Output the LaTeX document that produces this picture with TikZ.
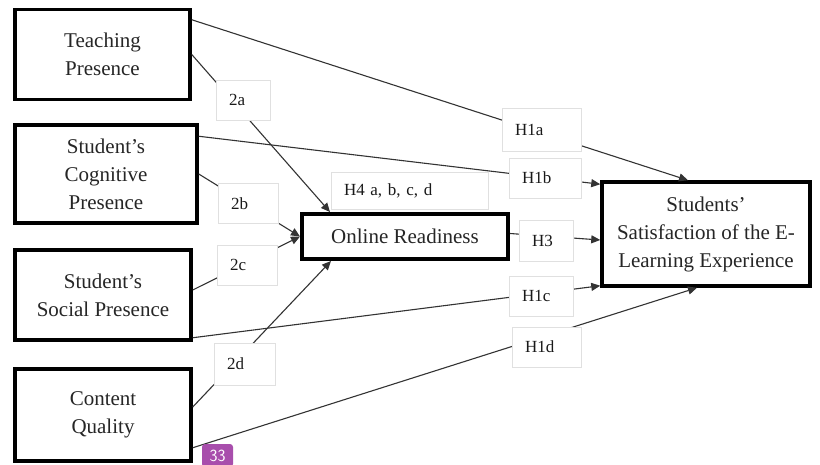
\documentclass[tikz,border=0pt]{standalone}
\usepackage{fontspec}
\setmainfont{Liberation Serif}
\usetikzlibrary{arrows.meta}
\definecolor{badgepurple}{RGB}{168,78,172}

\begin{document}
\begin{tikzpicture}[x=1pt,y=-1pt,
	construct/.style={draw=black, line width=3.5pt, fill=white, align=center, inner sep=0pt, text=black!85, font=\fontsize{21pt}{28pt}\selectfont},
	hyp/.style={draw=black!12, line width=0.8pt, fill=white, align=left, inner xsep=13pt, inner ysep=0pt, minimum height=40pt, text=black!90, font=\fontsize{17pt}{20pt}\selectfont},
	link/.style={every edge/.append style={draw=black!80, line width=1.1pt, -{Triangle[length=9pt,width=8pt]}}}]
		\useasboundingbox (0,0) rectangle (820,465);
		% constructs
		\draw (102.5,54.5) node [construct, minimum width=175pt, minimum height=90pt] (tp) {Teaching\\Presence};
		\draw (106,174) node [construct, minimum width=182pt, minimum height=98pt] (scp) {Student’s\\Cognitive\\Presence};
		\draw (103,295) node [construct, minimum width=176pt, minimum height=90pt] (ssp) {Student’s\\Social Presence};
		\draw (103,415) node [construct, minimum width=176pt, minimum height=92pt] (cq) {Content\\Quality};
		\draw (405,236.5) node [construct, line width=4pt, minimum width=206pt, minimum height=45pt] (ordy) {Online Readiness};
		\draw (706,234) node [construct, minimum width=208pt, minimum height=104pt] (sat) {Students’\\Satisfaction of the E-\\Learning Experience};
		% paths
		\path[link]
		([yshift=-12pt]tp.north east) edge ([xshift=-18pt]sat.north)
		(tp.east) edge ([xshift=30pt]ordy.north west)
		([yshift=-13pt]scp.north east) edge ([yshift=-4pt]sat.north west)
		(scp.east) edge (ordy.west)
		([yshift=5pt]ssp.east) edge (ordy.west)
		([yshift=4pt]ssp.south east) edge ([yshift=2pt]sat.south west)
		([yshift=8pt]cq.east) edge ([xshift=31pt]ordy.south west)
		([yshift=15pt]cq.south east) edge ([xshift=-9pt]sat.south)
		([yshift=3pt]ordy.east) edge ([yshift=-6pt]sat.west);
		% hypothesis labels
		\draw (243,100) node [hyp, text width=28pt] (l2a) {2a};
		\draw (248,203.5) node [hyp, text width=34pt] (l2b) {2b};
		\draw (247,265) node [hyp, text width=34pt] (l2c) {2c};
		\draw (244.5,364) node [hyp, text width=35pt, minimum height=42pt] (l2d) {2d};
		\draw (409.5,190.5) node [hyp, text width=131pt, minimum height=37pt] (lh4) {H4 a, b, c, d};
		\draw (541.5,129.5) node [hyp, text width=53pt, minimum height=43pt] (lh1a) {H1a};
		\draw (545,178) node [hyp, text width=46pt] (lh1b) {H1b};
		\draw (546,240.5) node [hyp, text width=28pt, minimum height=41pt] (lh3) {H3};
		\draw (541,296) node [hyp, text width=38pt] (lh1c) {H1c};
		\draw (546.5,347) node [hyp, text width=43pt] (lh1d) {H1d};
		% page badge
		\draw (217.5,455.5) node [fill=badgepurple, rounded corners=3pt, text=white, minimum width=31pt, minimum height=23pt, inner sep=0pt, font=\sffamily\fontsize{17pt}{17pt}\selectfont] (badge) {33};
	\end{tikzpicture}
\end{document}
